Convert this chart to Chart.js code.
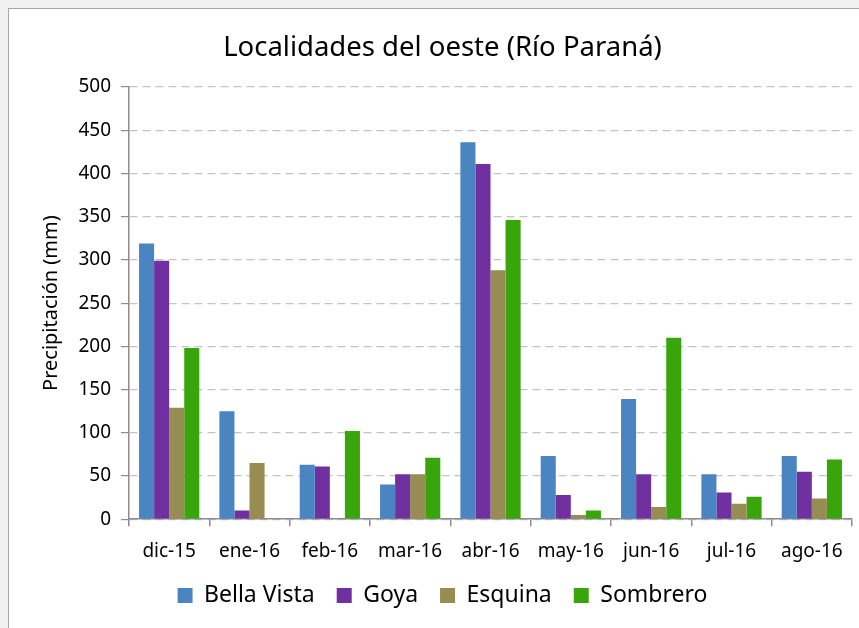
<!DOCTYPE html>
<html>
<head>
<meta charset="utf-8">
<script src="https://cdn.jsdelivr.net/npm/chart.js@4"></script>
<style>
  html, body { margin: 0; padding: 0; background: #f0f0f0; overflow: hidden; }
  #box {
    position: absolute; left: 8px; top: 8px;
    width: 860px; height: 630px;
    background: #fff; border: 1px solid #a6a6a6;
  }
  #chart { display: block; }
</style>
</head>
<body>
<div id="box"><canvas id="chart" width="850" height="619"></canvas></div>
<script>
// meses
const meses = ["dic-15", "ene-16", "feb-16", "mar-16", "abr-16", "may-16", "jun-16", "jul-16", "ago-16"];

// precipitación mensual (mm)
const bellaVista = [319, 125, 63, 40, 436, 73, 139, 52, 73];
const goya = [299, 10, 61, 52, 411, 28, 52, 31, 55];
const esquina = [129, 65, 0, 52, 288, 5, 14, 18, 24];
const sombrero = [198, 0, 102, 71, 346, 10, 210, 26, 69];

const yTicks = [0, 50, 100, 150, 200, 250, 300, 350, 400, 450, 500];

const font = "'Noto Sans', sans-serif";

const serie = (label, data, color) => ({
  label,
  data,
  backgroundColor: color,
  borderWidth: 0,
  categoryPercentage: 0.75,
  barPercentage: 1.0,
});

new Chart(document.getElementById("chart").getContext("2d"), {
  type: "bar",
  data: {
    labels: meses,
    datasets: [
      serie("Bella Vista", bellaVista, "#4a85c1"),
      serie("Goya", goya, "#7030a0"),
      serie("Esquina", esquina, "#978c51"),
      serie("Sombrero", sombrero, "#38a60a"),
    ],
  },
  options: {
    responsive: false,
    animation: false,
    layout: { padding: { left: 24, right: 7, top: 10, bottom: 11 } },
    plugins: {
      title: {
        display: true,
        text: "Localidades del oeste (Río Paraná)",
        color: "#000",
        font: { family: font, size: 27.5, weight: "normal" },
        padding: { top: 13, bottom: 22 },
      },
      legend: {
        position: "bottom",
        labels: {
          color: "#000",
          font: { family: font, size: 23 },
          boxWidth: 15,
          boxHeight: 15,
          padding: 22,
        },
      },
      tooltip: { enabled: false },
    },
    scales: {
      x: {
        // etiquetas más cerca de la leyenda
        afterFit: (s) => { s.height = s.height - 15; },
        grid: {
          offset: true,
          drawOnChartArea: false,
          tickLength: 7,
          tickColor: "#8c8c8c",
          lineWidth: 1.5,
        },
        border: { color: "#8c8c8c", width: 1.5 },
        ticks: { color: "#000", font: { family: font, size: 19 }, padding: 14 },
      },
      y: {
        min: 0,
        max: 500,
        afterBuildTicks: (s) => { s.ticks = yTicks.map((v) => ({ value: v })); },
        afterFit: (s) => { s.width = 96; },
        grid: {
          color: "#c4c4c4",
          tickBorderDash: [],
          tickColor: "#8c8c8c",
          tickLength: 8,
          lineWidth: 1.2,
        },
        border: { color: "#8c8c8c", width: 1.5, dash: [8, 5] },
        ticks: { color: "#000", font: { family: font, size: 19 }, padding: 10 },
        title: {
          display: true,
          text: "Precipitación (mm)",
          color: "#000",
          font: { family: font, size: 20 },
          padding: { top: 6, bottom: 0 },
        },
      },
    },
  },
});
</script>
</body>
</html>
